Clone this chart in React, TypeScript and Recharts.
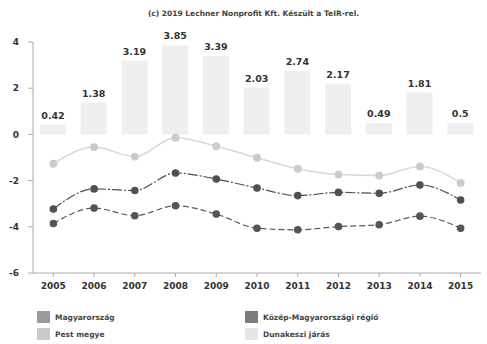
import React from "react";
import { Bar, ComposedChart, LabelList, Line, XAxis, YAxis } from "recharts";

const years = ["2005", "2006", "2007", "2008", "2009", "2010", "2011", "2012", "2013", "2014", "2015"];
const dunakeszi = [0.42, 1.38, 3.19, 3.85, 3.39, 2.03, 2.74, 2.17, 0.49, 1.81, 0.5];
const pestMegye = [-1.27, -0.55, -0.96, -0.14, -0.51, -1.01, -1.49, -1.74, -1.78, -1.39, -2.1];
const kozepRegio = [-3.23, -2.36, -2.43, -1.67, -1.93, -2.32, -2.65, -2.51, -2.55, -2.19, -2.84];
const magyarorszag = [-3.86, -3.19, -3.52, -3.09, -3.45, -4.06, -4.13, -3.99, -3.91, -3.54, -4.06];
const yTicks = [-6, -4, -2, 0, 2, 4];

const data = years.map((year, i) => ({
  year,
  dunakeszi: dunakeszi[i],
  pest: pestMegye[i],
  kozep: kozepRegio[i],
  magyar: magyarorszag[i],
}));

const legend = [
  { name: "Magyarország", color: "#9b9b9b" },
  { name: "Közép-Magyarországi régió", color: "#7c7c7c" },
  { name: "Pest megye", color: "#cacaca" },
  { name: "Dunakeszi járás", color: "#e6e6e6" },
];

const font = "'DejaVu Sans', Verdana, sans-serif";
const tick = { fill: "#333", fontSize: 9, fontWeight: 700, fontFamily: font };

export default function App() {
  return (
    <div style={{ position: "absolute", left: 0, top: 0, width: 487, height: 344, background: "#fff", fontFamily: font }}>
      <div style={{ position: "absolute", top: 9, left: 0, width: 487, textAlign: "center", paddingLeft: 20, boxSizing: "border-box", fontSize: 7.5, fontWeight: 700, color: "#444" }}>
        (c) 2019 Lechner Nonprofit Kft. Készült a TeIR-rel.
      </div>
      <ComposedChart width={487} height={300} data={data} margin={{ top: 42, right: 6, left: 0, bottom: 0 }}>
        <XAxis
          dataKey="year"
          height={27}
          stroke="#aaa"
          tickSize={4}
          tickMargin={6}
          tick={tick}
          interval={0}
        />
        <YAxis
          domain={[-6, 4]}
          ticks={yTicks}
          width={33}
          stroke="#aaa"
          tickSize={5}
          tickMargin={9}
          tick={tick}
        />
        <Bar dataKey="dunakeszi" fill="#efefef" barSize={26} isAnimationActive={false}>
          <LabelList dataKey="dunakeszi" position="top" offset={6} style={{ fill: "#333", fontSize: 9.5, fontWeight: 600, fontFamily: font }} />
        </Bar>
        <Line
          type="monotone"
          dataKey="pest"
          stroke="#d8d8d8"
          strokeWidth={1.5}
          dot={{ r: 3.2, fill: "#cbcbcb", stroke: "#cbcbcb" }}
          isAnimationActive={false}
        />
        <Line
          type="monotone"
          dataKey="kozep"
          stroke="#505050"
          strokeWidth={1.2}
          strokeDasharray="10 2 2 2"
          dot={{ r: 3.2, fill: "#505050", stroke: "#505050", strokeDasharray: "" }}
          isAnimationActive={false}
        />
        <Line
          type="monotone"
          dataKey="magyar"
          stroke="#5a5a5a"
          strokeWidth={1.2}
          strokeDasharray="6 3"
          dot={{ r: 3.2, fill: "#555", stroke: "#555", strokeDasharray: "" }}
          isAnimationActive={false}
        />
      </ComposedChart>
      {legend.map((item, i) => (
        <div
          key={item.name}
          style={{
            position: "absolute",
            left: i % 2 === 0 ? 37 : 245,
            top: i < 2 ? 311 : 328,
            display: "flex",
            alignItems: "center",
            fontSize: 7.5,
            fontWeight: 700,
            color: "#444",
          }}
        >
          <span style={{ display: "inline-block", width: 13, height: 12, background: item.color, marginRight: 5 }} />
          {item.name}
        </div>
      ))}
    </div>
  );
}
